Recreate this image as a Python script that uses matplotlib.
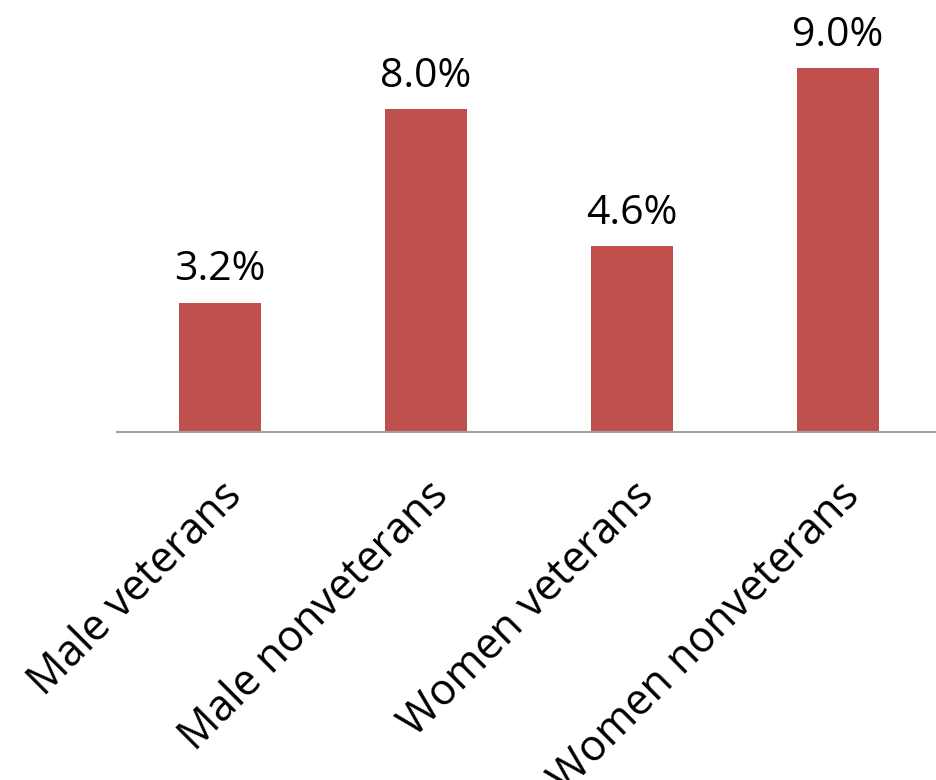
import matplotlib.pyplot as plt

categories = ["Male veterans", "Male nonveterans", "Women veterans", "Women nonveterans"]
values = [3.2, 8.0, 4.6, 9.0]
labels = ["3.2%", "8.0%", "4.6%", "9.0%"]

plt.rcParams['font.family'] = ['Open Sans', 'DejaVu Sans']

fig = plt.figure(figsize=(9.36, 7.8), dpi=100)
ax = fig.add_axes([117 / 936, 348 / 780, 824 / 936, 404 / 780])

x = range(len(categories))
ax.bar(x, values, width=0.4, color='#C0504D')

for i, v in enumerate(values):
    ax.annotate(labels[i], (i, v), xytext=(0, 16), textcoords='offset points',
                ha='center', va='baseline', fontsize=29.5)

ax.set_xlim(-0.5, 3.5)
ax.set_ylim(0, 10)
ax.set_xticks(list(x))
ax.set_xticklabels(categories, rotation=45, ha='right', rotation_mode='anchor', fontsize=31)
ax.tick_params(axis='x', length=0, pad=30)
ax.set_yticks([])

for s in ['top', 'right', 'left']:
    ax.spines[s].set_visible(False)
ax.spines['bottom'].set_color('#A0A0A0')
ax.spines['bottom'].set_linewidth(1.5)

plt.savefig("out.png", dpi=100)
